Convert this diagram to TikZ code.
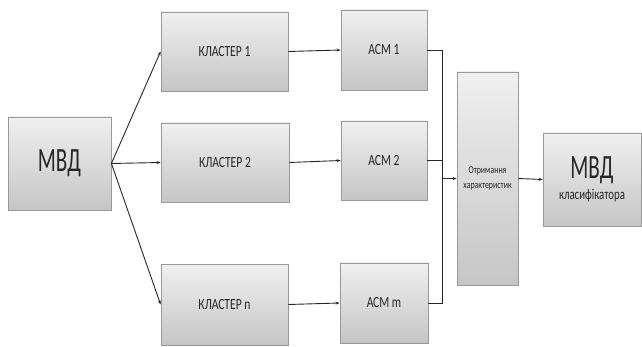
\documentclass[tikz,border=0pt]{standalone}
\usepackage{fontspec}
\setmainfont{Carlito}
\usetikzlibrary{arrows.meta,shadows}
\tikzset{
  blok/.style={draw=gray!80, line width=0.8pt, top color=gray!12, bottom color=gray!45,
    drop shadow={shadow xshift=0.8pt, shadow yshift=-0.8pt, opacity=0.35},
    inner sep=0pt, align=center, text=black!85},
  zv/.style={line width=0.9pt, draw=black!85},
  str/.style={zv, -{Stealth[length=4pt,width=3pt]}}
}
\newcommand{\uzk}[2][0.75]{\scalebox{#1}[1]{#2}}
\begin{document}
\begin{tikzpicture}[x=1pt,y=-1pt]
  \useasboundingbox (0,0) rectangle (642,347);

  % bloky
  \node[blok, minimum width=103, minimum height=93, font=\fontsize{34}{36}\selectfont] (mvd) at (59.5,163.5) {\uzk[0.62]{МВД}};
  \begin{scope}[font=\fontsize{15.5}{17}\selectfont]
    \node[blok, minimum width=127, minimum height=79] (kl1) at (224.5,51.5) {\uzk{КЛАСТЕР 1}};
    \node[blok, minimum width=128, minimum height=79] (kl2) at (225,162.5) {\uzk{КЛАСТЕР 2}};
    \node[blok, minimum width=127, minimum height=81] (kln) at (224.5,304.5) {\uzk{КЛАСТЕР n}};
    \node[blok, minimum width=86, minimum height=80] (acm1) at (384,50) {\uzk{АСМ 1}};
    \node[blok, minimum width=86, minimum height=79] (acm2) at (384,160.5) {\uzk{АСМ 2}};
    \node[blok, minimum width=88, minimum height=80] (acmm) at (384,303) {\uzk{АСМ m}};
  \end{scope}
  \node[blok, minimum width=61, minimum height=213, font=\fontsize{10.5}{15}\selectfont] (otr) at (487.5,178.5)
    {\uzk{Отримання}\\\uzk{характеристик}};
  \node[blok, minimum width=98, minimum height=93] (mvdk) at (592,179.5)
    {{\fontsize{34}{36}\selectfont\uzk[0.62]{МВД}}\\[4pt]{\fontsize{15}{17}\selectfont\uzk[0.72]{класифікатора}}};

  \coordinate (zb) at (442,178.5);

  % zv'yazky
  \begin{scope}[str]
    \draw (mvd.east) -- (kl1.west);
    \draw (mvd.east) -- (kl2.west);
    \draw (mvd.east) -- (kln.west);
    \draw (kl1.east) -- (acm1.west);
    \draw (kl2.east) -- (acm2.west);
    \draw (kln.east) -- (acmm.west);
    \draw (zb) -- (otr.west);
    \draw (otr.east) -- (mvdk.west);
  \end{scope}
  \begin{scope}[zv]
    \draw (acm1.east) -| (zb);
    \draw (acm2.east) -| (zb);
    \draw (acmm.east) -| (zb);
  \end{scope}
\end{tikzpicture}
\end{document}
